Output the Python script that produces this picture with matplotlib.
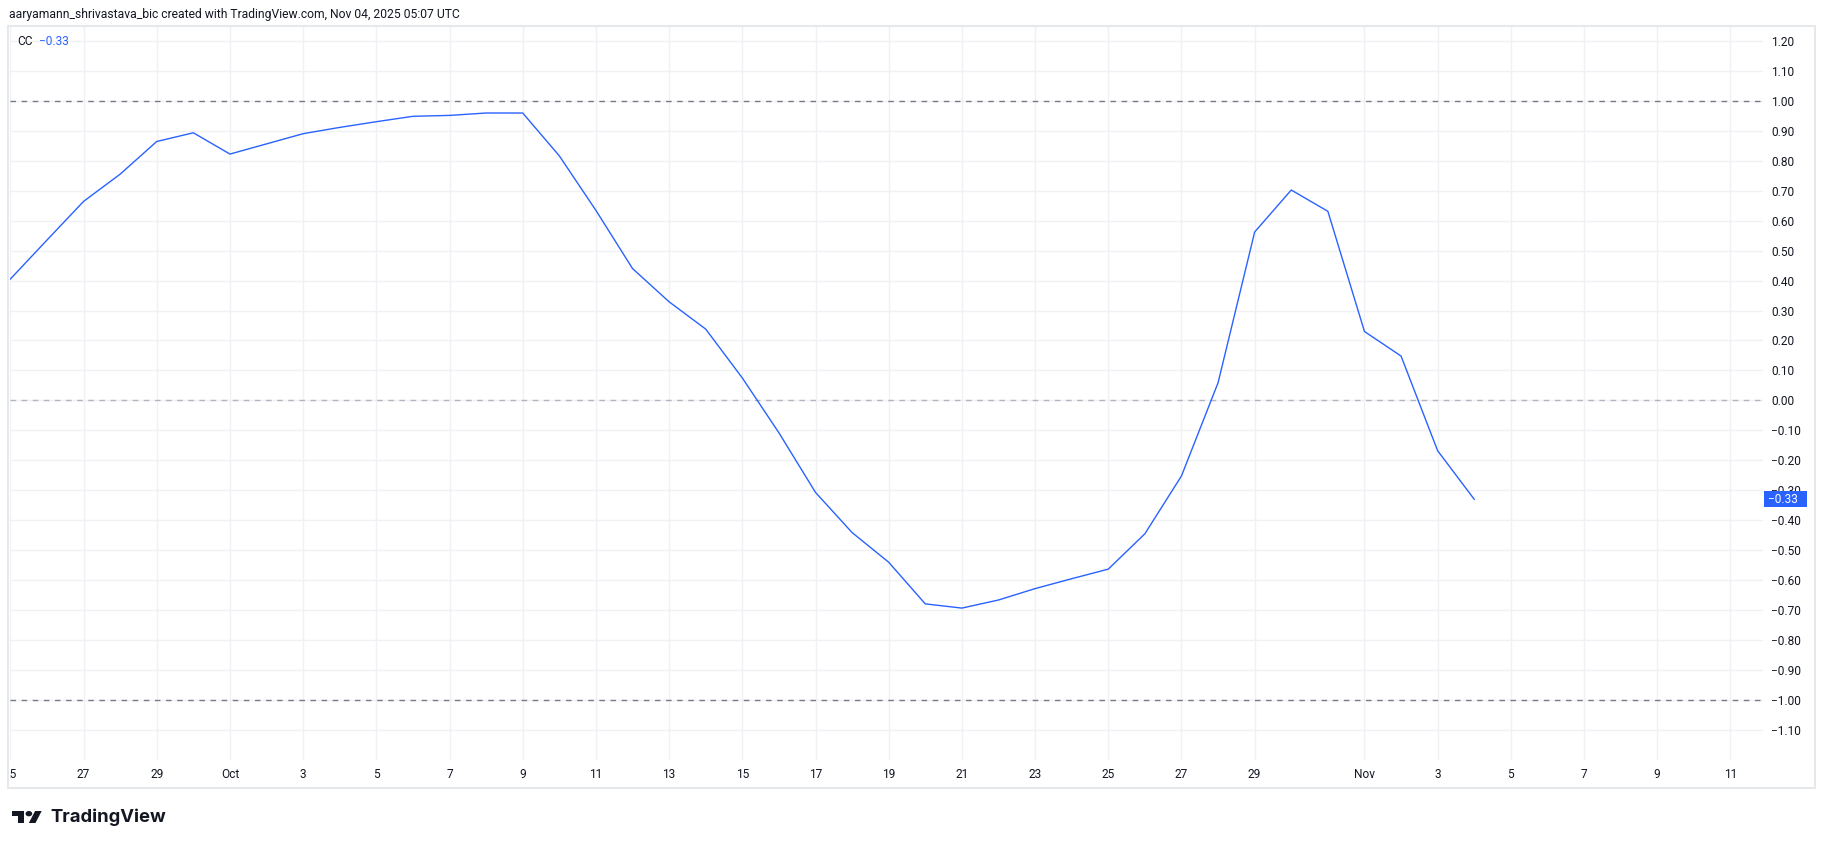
import matplotlib
matplotlib.use('Agg')
import matplotlib.pyplot as plt
import matplotlib.dates as mdates
from matplotlib.patches import Rectangle, Polygon, Ellipse
from matplotlib.transforms import Bbox, TransformedBbox
import pandas as pd

plt.rcParams['font.family'] = ['Roboto', 'DejaVu Sans']

# ---------------- data ----------------
start_date = '2025-09-25'
end_date = '2025-11-04'
cc_values = [0.405, 0.535, 0.664, 0.755, 0.864, 0.893,
             0.822, 0.856, 0.890, 0.911, 0.930, 0.948, 0.951, 0.959, 0.959,
             0.816, 0.634, 0.440, 0.329, 0.238, 0.075, -0.108, -0.307, -0.441,
             -0.540, -0.679, -0.693, -0.666, -0.628, -0.595, -0.563, -0.445,
             -0.252, 0.059, 0.562, 0.702, 0.631,
             0.230, 0.148, -0.168, -0.33]
tick_dates = ['2025-09-25', '2025-09-27', '2025-09-29', '2025-10-01', '2025-10-03',
              '2025-10-05', '2025-10-07', '2025-10-09', '2025-10-11', '2025-10-13',
              '2025-10-15', '2025-10-17', '2025-10-19', '2025-10-21', '2025-10-23',
              '2025-10-25', '2025-10-27', '2025-10-29', '2025-11-01', '2025-11-03',
              '2025-11-05', '2025-11-07', '2025-11-09', '2025-11-11']
tick_labels = ['25', '27', '29', 'Oct', '3', '5', '7', '9', '11', '13', '15', '17',
               '19', '21', '23', '25', '27', '29', 'Nov', '3', '5', '7', '9', '11']
y_ticks = [-1.1, -1.0, -0.9, -0.8, -0.7, -0.6, -0.5, -0.4, -0.3, -0.2, -0.1, 0.0,
           0.1, 0.2, 0.3, 0.4, 0.5, 0.6, 0.7, 0.8, 0.9, 1.0, 1.1, 1.2]
ref_levels = [1.0, 0.0, -1.0]
header = 'aaryamann_shrivastava_bic created with TradingView.com, Nov 04, 2025 05:07 UTC'
indicator_name = 'CC'

dates = pd.date_range(start_date, end_date, freq='D')

# ---------------- style ----------------
W, H = 1825, 849
BLUE = '#2962ff'
TXT = '#131722'
GRID = '#f0f1f4'
BORDER = '#e6e8ec'


def fmt(v):
    s = f'{abs(v):.2f}'
    return ('\u2212' + s) if v < -1e-9 else s


fig = plt.figure(figsize=(W / 100, H / 100), dpi=100, facecolor='white')

ax_l, ax_r, ax_t, ax_b = 10, 1763, 27, 760
ax = fig.add_axes([ax_l / W, (H - ax_b) / H, (ax_r - ax_l) / W, (ax_b - ax_t) / H])
ax.set_facecolor('white')

x0 = mdates.date2num(pd.Timestamp(start_date)) - 0.01
ax.set_xlim(x0, x0 + 47.9)
ax.set_ylim(-1.1999, 1.246)

for s in ax.spines.values():
    s.set_visible(False)

# grid
for yv in y_ticks:
    ax.axhline(yv, color=GRID, lw=1.0, zorder=0)
for d in tick_dates:
    ax.axvline(mdates.date2num(pd.Timestamp(d)), color=GRID, lw=1.0, zorder=0)

# reference lines
for lv in ref_levels:
    col = '#b2b5be' if lv == 0 else '#787b86'
    ax.axhline(lv, color=col, lw=1.0, ls=(0, (4, 4)), zorder=1)

# series
ax.plot(mdates.date2num(dates), cc_values, color=BLUE, lw=1.0, zorder=3,
        solid_joinstyle='round')

# ticks
ax.yaxis.tick_right()
ax.set_yticks(y_ticks)
ax.set_yticklabels([fmt(v) for v in y_ticks])
ax.set_xticks([mdates.date2num(pd.Timestamp(d)) for d in tick_dates])
ax.set_xticklabels(tick_labels)
ax.tick_params(axis='y', length=0, pad=5.8, labelsize=8.6, labelcolor=TXT)
ax.tick_params(axis='x', length=0, pad=6.0, labelsize=8.6, labelcolor=TXT)
clip = TransformedBbox(Bbox([[ax_l / W, 0], [1, 1]]), fig.transFigure)
for lbl in ax.get_xticklabels():
    lbl.set_clip_box(clip)
    lbl.set_clip_on(True)

# ---------------- overlay (pixel coords) ----------------
ov = fig.add_axes([0, 0, 1, 1], zorder=10)
ov.set_xlim(0, W)
ov.set_ylim(H, 0)
ov.axis('off')
ov.patch.set_alpha(0)

# panel border
ov.add_patch(Rectangle((8, 26), 1815 - 8, 788 - 26, fill=False, ec=BORDER, lw=1.5))

# header
ov.text(9, 14, header, fontsize=8.7, color=TXT, ha='left', va='center')

# legend
t1 = ov.text(17, 41, indicator_name, fontsize=8.6, color=TXT, ha='left', va='center')
ov.text(39, 41, fmt(cc_values[-1]), fontsize=8.6, color=BLUE, ha='left', va='center')

# last value label on price axis
fig.canvas.draw()
y_disp = ax.transData.transform((ax.get_xlim()[0], cc_values[-1]))[1]
y_px = H - y_disp
ov.add_patch(Rectangle((1764, y_px - 8), 43, 16, fc=BLUE, ec='none', zorder=5))
ov.text(1768, y_px, fmt(cc_values[-1]), fontsize=8.6, color='white', ha='left',
        va='center', zorder=6)

# TradingView logo
sx, sy = 0.828, 0.667
ox, oy = 12.3, 811


def P(x, y):
    return (ox + sx * x, oy + sy * (y - 4))


ov.add_patch(Polygon([P(14, 22), P(7, 22), P(7, 11), P(0, 11), P(0, 4), P(14, 4)],
                     closed=True, fc=TXT, ec='none'))
ov.add_patch(Polygon([P(28, 22), P(20, 22), P(27.5, 4), P(35.5, 4)],
                     closed=True, fc=TXT, ec='none'))
cx, cy = P(20, 8)
ov.add_patch(Ellipse((cx, cy), 8 * sx, 8 * sy, fc=TXT, ec='none'))
ov.text(50, 817, 'TradingView', fontsize=13.3, fontweight='bold', color=TXT,
        family=['Inter', 'DejaVu Sans'], ha='left', va='center')

fig.savefig('out.png', dpi=100, facecolor='white')
